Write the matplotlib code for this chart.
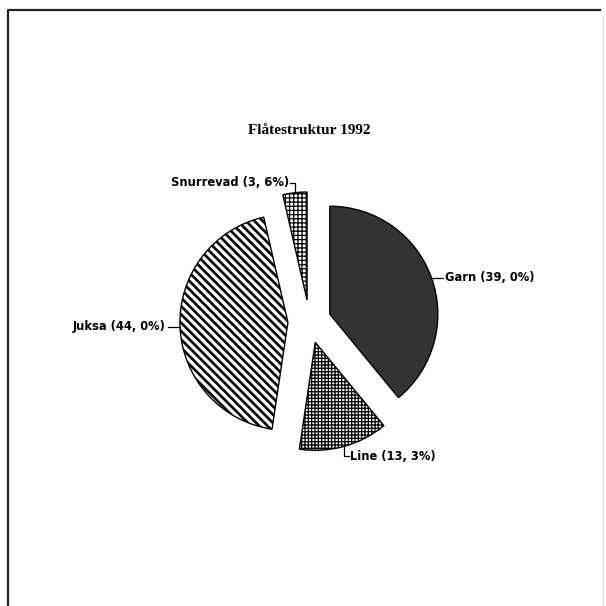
import numpy as np
import matplotlib
matplotlib.use("Agg")
import matplotlib.pyplot as plt

# data
navn = ["Garn", "Line", "Juksa", "Snurrevad"]
andel = [39.0, 13.3, 44.0, 3.6]
tittel = "Flåtestruktur 1992"

farger = ["#333336", "white", "white", "white"]
monster = [None, "+++++", "\\\\\\\\", "++++"]
strek = [None, 0.9, 1.9, 0.9]

plt.rcParams["hatch.linewidth"] = 0.9

fig = plt.figure(figsize=(6.06, 6.06), dpi=100)
ax = fig.add_axes([0, 0, 1, 1])

# pie placed in pixel coordinates of the page (y going up)
wedges, _ = ax.pie(andel, startangle=90, counterclock=False,
                   explode=[21.6] * len(andel), center=(309.5, 284.5),
                   radius=108, colors=farger,
                   wedgeprops=dict(edgecolor="black", linewidth=1.0))
for w, h, lw in zip(wedges, monster, strek):
    if h:
        w.set_hatch(h)
        if hasattr(w, "set_hatch_linewidth"):
            w.set_hatch_linewidth(lw)

# labels with leader lines, "39, 0%" style
for w, n, v in zip(wedges, navn, andel):
    tekst = "%s (%s%%)" % (n, ("%.1f" % v).replace(".", ", "))
    ang = np.deg2rad((w.theta1 + w.theta2) / 2)
    cx, cy = w.center
    px = cx + w.r * np.cos(ang)
    py = cy + w.r * np.sin(ang)
    if abs(np.cos(ang)) > 0.5:
        s = np.sign(np.cos(ang))
        ax.plot([px, px + 12 * s], [py, py], color="black", lw=0.9)
        ax.text(px + 14 * s, py, tekst, ha="left" if s > 0 else "right",
                va="center", fontsize=8.3, fontweight="bold",
                family="DejaVu Sans")
    else:
        sy = np.sign(np.sin(ang))
        sx = np.sign(np.cos(ang))
        ax.plot([px, px, px + 5 * sx], [py, py + 10 * sy, py + 10 * sy],
                color="black", lw=0.9)
        ax.text(px + 6 * sx, py + 10 * sy, tekst,
                ha="left" if sx > 0 else "right", va="center",
                fontsize=8.3, fontweight="bold", family="DejaVu Sans")

ax.text(309.5, 476, tittel, ha="center", va="center", fontsize=11,
        fontweight="bold", family="Liberation Serif")

# page border from the scan
ax.plot([8, 8, 600], [0, 596, 596], color="#222222", lw=1.6)
ax.plot([603, 603], [0, 590], color="#dddddd", lw=0.8)

ax.set_xlim(0, 606)
ax.set_ylim(0, 606)
ax.set_aspect("equal")
ax.axis("off")

plt.savefig("out.png", dpi=100)
